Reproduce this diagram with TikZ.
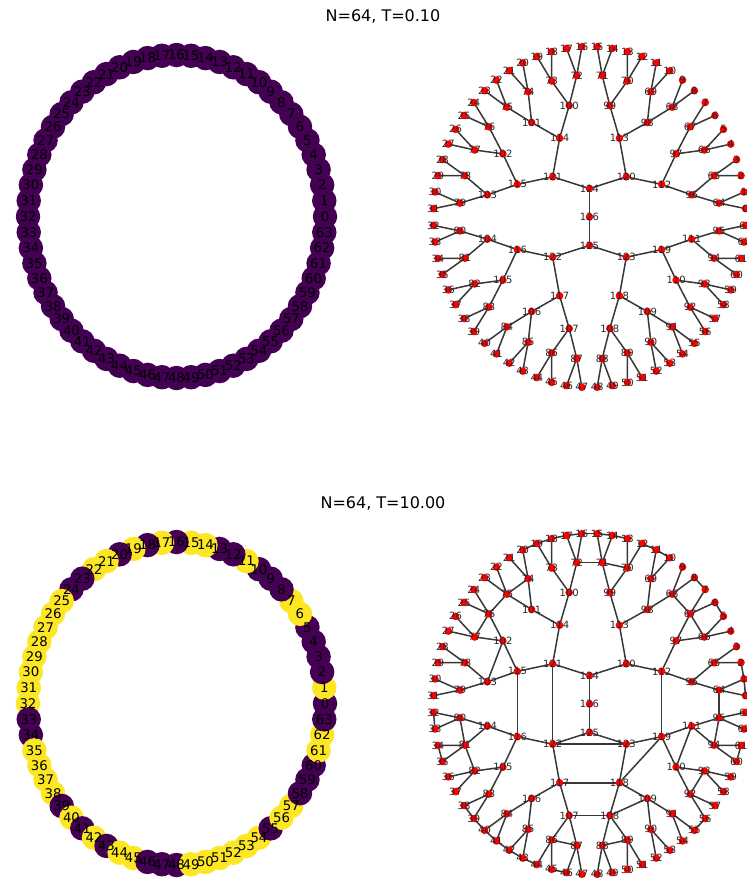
\documentclass[tikz,border=0pt]{standalone}
\usepackage{fontspec}
\setmainfont{DejaVu Sans}
\pgfdeclarelayer{bg}
\pgfdeclarelayer{paper}
\pgfsetlayers{paper,bg,main}
\definecolor{vpur}{HTML}{440154}
\definecolor{vyel}{HTML}{FDE725}
\tikzset{
  ringnode/.style={circle, inner sep=0pt, minimum size=24.5pt},
  treenode/.style={circle, fill=red, inner sep=0pt, minimum size=7.6pt},
  ringlab/.style={font=\fontsize{13.3}{14}\selectfont, text=black, inner sep=0pt},
  treelab/.style={font=\fontsize{10}{11}\selectfont, text=black!85, inner sep=0pt},
  treeedge/.style={draw=black!78, line width=1.5pt},
  titlelab/.style={font=\fontsize{16}{18}\selectfont, inner sep=0pt}
}
\newcommand\mytree[2]{%
  \foreach \L/\s/\c in {0/0/63,1/64/31,2/96/15,3/112/7,4/120/3,5/124/1} {
    \foreach \j in {0,...,\c} {
      \pgfmathtruncatemacro\n{\s+\j}
      \pgfmathsetmacro\ang{5.625*(2^\L*\j+2^(\L-1))}
      \pgfmathsetmacro\rr{(6-\L)/6}
      \node[treenode] (#1\n) at ({589.5+156.2*\rr*cos(\ang)}, {#2-170.5*\rr*sin(\ang)}) {};
    }
  }
  \node[treenode] (#1126) at (589.5, #2) {};
  \begin{pgfonlayer}{bg}
  \foreach \n in {64,...,126} {
    \pgfmathtruncatemacro\ca{2*\n-128}
    \pgfmathtruncatemacro\cb{2*\n-127}
    \draw[treeedge] (#1\n.center) -- (#1\ca.center) (#1\n.center) -- (#1\cb.center);
  }
  \end{pgfonlayer}
}
\newcommand\mytreelabels[1]{%
  \foreach \n in {0,...,126} \node[treelab] (#1l\n) at (#1\n) {\n};
}
\begin{document}
\begin{tikzpicture}[x=1pt,y=-1pt]
\useasboundingbox (0,0) rectangle (747,879);
\begin{pgfonlayer}{paper}
\fill[white] (0,0) rectangle (747,879);
\end{pgfonlayer}
% titles
\node[titlelab] (title1) at (383,16) {N=64, T=0.10};
\node[titlelab] (title2) at (383,503) {N=64, T=10.00};
% top ring
\foreach \k in {0,...,63} {
  \pgfmathsetmacro\ang{5.625*\k}
  \node[ringnode, fill=vpur] (r\k) at ({176.5+148.5*cos(\ang)}, {216.5-161.5*sin(\ang)}) {};
}
\foreach \k in {0,...,63} \node[ringlab] (rl\k) at (r\k) {\k};
% bottom ring
\foreach \k/\col in {0/vpur,1/vyel,2/vpur,3/vpur,4/vpur,5/vpur,6/vyel,7/vyel,8/vpur,9/vpur,10/vpur,11/vyel,12/vpur,13/vpur,14/vyel,15/vyel,16/vpur,17/vyel,18/vpur,19/vyel,20/vpur,21/vyel,22/vyel,23/vpur,24/vpur,25/vyel,26/vyel,27/vyel,28/vyel,29/vyel,30/vyel,31/vyel,32/vyel,33/vpur,34/vpur,35/vyel,36/vyel,37/vyel,38/vyel,39/vpur,40/vyel,41/vpur,42/vyel,43/vpur,44/vyel,45/vyel,46/vpur,47/vpur,48/vpur,49/vyel,50/vyel,51/vyel,52/vyel,53/vyel,54/vyel,55/vpur,56/vyel,57/vyel,58/vpur,59/vpur,60/vpur,61/vyel,62/vyel,63/vpur} {
  \pgfmathsetmacro\ang{5.625*\k}
  \node[ringnode, fill=\col] (s\k) at ({176.5+148.5*cos(\ang)}, {703.5-161.5*sin(\ang)}) {};
}
\foreach \k in {0,...,63} \node[ringlab] (sl\k) at (s\k) {\k};
% top tree
\mytree{t}{217}
\mytreelabels{t}
% bottom tree
\mytree{u}{704}
\begin{pgfonlayer}{bg}
\foreach \a/\b in {0/1,1/2,5/6,7/8,10/11,11/12,13/14,14/15,15/16,16/17,17/18,18/19,19/20,32/33,34/35,38/39,39/40,40/41,41/42,42/43,43/44,45/46,55/56,60/61,64/95,66/67,67/68,70/71,71/72,74/75,75/76,76/77,80/81,81/82,86/87,88/89,92/93,94/95,102/103,107/108,108/109,110/111,112/119,115/116,117/118,118/119,121/122,122/123}
  \draw[treeedge] (u\a.center) -- (u\b.center);
\end{pgfonlayer}
\mytreelabels{u}
\end{tikzpicture}
\end{document}
